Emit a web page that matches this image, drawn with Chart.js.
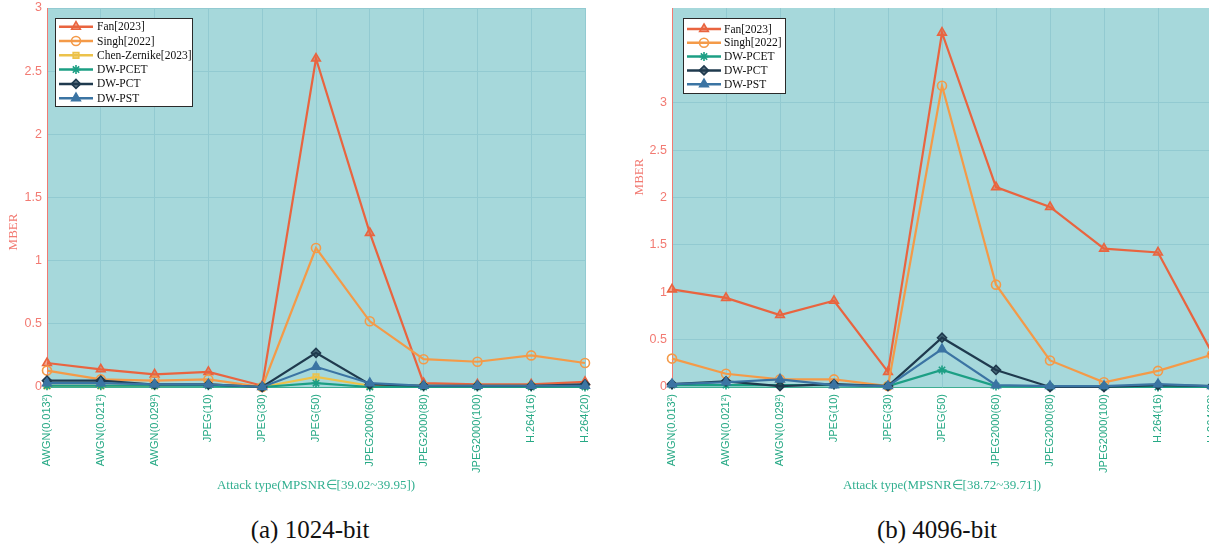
<!DOCTYPE html>
<html>
<head>
<meta charset="utf-8">
<script src="https://cdn.jsdelivr.net/npm/chart.js@4.4.0/dist/chart.umd.min.js"></script>
<style>
  html, body { margin: 0; padding: 0; background: #fff; overflow: hidden; width: 1209px; height: 545px; }
  #wrap { position: relative; width: 1209px; height: 545px; overflow: hidden; }
  #wrap canvas { position: absolute; top: 0; }
  .cap { position: absolute; top: 515px; font-family: "Liberation Serif", "Times New Roman", serif; font-size: 25px;
         color: #111; transform: translateX(-50%); white-space: nowrap; line-height: 30px; }
</style>
</head>
<body>
<div id="wrap">
  <canvas id="c1024" width="600" height="500" style="left:0px"></canvas>
  <canvas id="c4096" width="600" height="500" style="left:625px"></canvas>
  <div class="cap" style="left:310px">(a) 1024-bit</div>
  <div class="cap" style="left:937px">(b) 4096-bit</div>
</div>
<script>
// Attack types on the x axis
const attackTypes = ['AWGN(0.013²)', 'AWGN(0.021²)', 'AWGN(0.029²)', 'JPEG(10)', 'JPEG(30)', 'JPEG(50)',
                     'JPEG2000(60)', 'JPEG2000(80)', 'JPEG2000(100)', 'H.264(16)', 'H.264(20)'];

// MBER, 1024-bit watermark
const fan1024   = [0.19, 0.14, 0.10, 0.12, 0.01, 2.60, 1.22, 0.03, 0.02, 0.02, 0.04];
const singh1024 = [0.13, 0.06, 0.05, 0.06, 0.00, 1.10, 0.52, 0.22, 0.20, 0.25, 0.19];
const chen1024  = [0.01, 0.01, 0.01, 0.02, 0.00, 0.08, 0.01, 0.01, 0.01, 0.01, 0.01];
const pcet1024  = [0.01, 0.01, 0.01, 0.01, 0.00, 0.03, 0.00, 0.00, 0.00, 0.00, 0.00];
const pct1024   = [0.05, 0.05, 0.02, 0.02, 0.00, 0.27, 0.02, 0.01, 0.01, 0.01, 0.02];
const pst1024   = [0.03, 0.03, 0.02, 0.02, 0.00, 0.16, 0.03, 0.01, 0.01, 0.01, 0.01];

// MBER, 4096-bit watermark
const fan4096   = [1.03, 0.94, 0.76, 0.91, 0.16, 3.74, 2.11, 1.90, 1.46, 1.42, 0.36];
const singh4096 = [0.30, 0.14, 0.08, 0.08, 0.01, 3.18, 1.08, 0.28, 0.05, 0.17, 0.34];
const pcet4096  = [0.02, 0.02, 0.02, 0.02, 0.01, 0.18, 0.01, 0.00, 0.00, 0.00, 0.00];
const pct4096   = [0.03, 0.06, 0.01, 0.03, 0.01, 0.52, 0.18, 0.00, 0.00, 0.02, 0.01];
const pst4096   = [0.03, 0.05, 0.08, 0.02, 0.01, 0.40, 0.02, 0.01, 0.01, 0.03, 0.01];

// Y tick values shown on each panel
const yTicks1024 = [0, 0.5, 1, 1.5, 2, 2.5, 3];
const yTicks4096 = [0, 0.5, 1, 1.5, 2, 2.5, 3];

const titles = {
  a: 'Attack type(MPSNR∈[39.02~39.95])',
  b: 'Attack type(MPSNR∈[38.72~39.71])'
};

const PLOT_BG = '#a6d8db';
const GRID = '#92cad1';
const RED_AXIS = '#f27a72';
const GREEN_TXT = '#27a985';

const styles = {
  fan:   { label: 'Fan[2023]',          color: '#e9643f', fill: 'rgba(233,100,63,0.55)', pointStyle: 'triangle', r: 5 },
  singh: { label: 'Singh[2022]',        color: '#f49a48', fill: 'rgba(0,0,0,0)',          pointStyle: 'circle',   r: 4.5 },
  chen:  { label: 'Chen-Zernike[2023]', color: '#ecc24a', fill: 'rgba(236,194,74,0.6)',   pointStyle: 'rect',     r: 4 },
  pcet:  { label: 'DW-PCET',            color: '#1c9f84', fill: '#1c9f84',                pointStyle: 'star',     r: 4.5 },
  pct:   { label: 'DW-PCT',             color: '#1f3a4e', fill: 'rgba(31,58,78,0.7)',     pointStyle: 'rectRot',  r: 4.5 },
  pst:   { label: 'DW-PST',             color: '#3b74a3', fill: '#3b74a3',                pointStyle: 'triangle', r: 5 }
};

function makeDataset(key, data, order) {
  const s = styles[key];
  return {
    label: s.label,
    data: data,
    borderColor: s.color,
    backgroundColor: s.color,
    borderWidth: 2.2,
    pointStyle: s.pointStyle,
    pointRadius: s.r,
    pointBorderWidth: 1.6,
    pointBorderColor: s.color,
    pointBackgroundColor: s.fill,
    tension: 0,
    clip: false,
    order: order
  };
}

// Fills the axes area with the panel colour
const plotBackground = {
  id: 'plotBackground',
  beforeDraw(chart) {
    const a = chart.chartArea;
    const ctx = chart.ctx;
    ctx.save();
    ctx.fillStyle = PLOT_BG;
    ctx.fillRect(a.left, a.top, a.right - a.left, a.bottom - a.top);
    ctx.restore();
  }
};

// Rotated y-axis caption
const yCaption = {
  id: 'yCaption',
  afterDraw(chart, args, opts) {
    const ctx = chart.ctx;
    ctx.save();
    ctx.translate(opts.x, opts.y);
    ctx.rotate(-Math.PI / 2);
    ctx.fillStyle = RED_AXIS;
    ctx.font = '13px "Liberation Serif", "Times New Roman", serif';
    ctx.textAlign = 'center';
    ctx.textBaseline = 'middle';
    ctx.fillText('MBER', 0, 0);
    ctx.restore();
  }
};

// Boxed legend with a line sample and marker for each series
const lineLegend = {
  id: 'lineLegend',
  afterDraw(chart, args, o) {
    const ctx = chart.ctx;
    ctx.save();
    ctx.fillStyle = '#ffffff';
    ctx.fillRect(o.x, o.y, o.w, o.h);
    ctx.strokeStyle = '#2a2a2a';
    ctx.lineWidth = 1;
    ctx.strokeRect(o.x + 0.5, o.y + 0.5, o.w, o.h);
    chart.data.datasets.forEach((ds, i) => {
      const y = o.y + o.first + i * o.gap;
      const x0 = o.x + o.l0, x1 = o.x + o.l1;
      ctx.strokeStyle = ds.borderColor;
      ctx.lineWidth = 2.5;
      ctx.beginPath();
      ctx.moveTo(x0, y);
      ctx.lineTo(x1, y);
      ctx.stroke();
      ctx.fillStyle = ds.pointBackgroundColor;
      ctx.strokeStyle = ds.borderColor;
      ctx.lineWidth = ds.pointBorderWidth;
      Chart.helpers.drawPoint(ctx, {
        pointStyle: ds.pointStyle, radius: ds.pointRadius, rotation: 0, borderWidth: ds.pointBorderWidth
      }, (x0 + x1) / 2, y);
      ctx.fillStyle = '#111';
      ctx.font = '11.5px "Liberation Serif", "Times New Roman", serif';
      ctx.textAlign = 'left';
      ctx.textBaseline = 'middle';
      ctx.fillText(ds.label, o.x + o.tx, y + 0.5);
    });
    ctx.restore();
  }
};

function makeChart(id, datasets, yMax, yTicks, xTitle, rightPad, legendOpts, captionPos) {
  return new Chart(document.getElementById(id), {
    type: 'line',
    data: { labels: attackTypes, datasets: datasets },
    plugins: [plotBackground, yCaption, lineLegend],
    options: {
      responsive: false,
      animation: false,
      devicePixelRatio: 1,
      layout: { padding: { top: 8, left: 0, right: rightPad, bottom: 0 } },
      plugins: {
        legend: { display: false },
        tooltip: { enabled: false },
        lineLegend: legendOpts,
        yCaption: captionPos
      },
      scales: {
        x: {
          offset: false,
          grid: { color: GRID, lineWidth: 1, drawTicks: false },
          border: { color: '#3fae92', width: 1 },
          ticks: {
            autoSkip: false, maxRotation: 90, minRotation: 90, padding: 7,
            color: GREEN_TXT,
            font: { family: "'Liberation Sans', Arial, sans-serif", size: 11 }
          },
          title: {
            display: true, text: xTitle, color: '#33b091',
            font: { family: "'Liberation Serif', 'Times New Roman', serif", size: 13 },
            padding: { top: 0, bottom: 7 }
          },
          afterFit: s => { s.height = 113; s.paddingLeft = 0; s.paddingRight = 0; }
        },
        y: {
          min: 0, max: yMax,
          grid: { color: GRID, lineWidth: 1, drawTicks: false },
          border: { color: RED_AXIS, width: 1 },
          ticks: {
            stepSize: 0.5, padding: 5, color: RED_AXIS,
            font: { family: "'Liberation Sans', Arial, sans-serif", size: 12.5 },
            callback: v => String(v)
          },
          afterBuildTicks: s => { s.ticks = yTicks.map(v => ({ value: v })); },
          afterFit: s => { s.width = 47; s.paddingTop = 0; s.paddingBottom = 0; }
        }
      }
    }
  });
}

makeChart('c1024', [
  makeDataset('fan', fan1024, 6),
  makeDataset('singh', singh1024, 5),
  makeDataset('chen', chen1024, 4),
  makeDataset('pcet', pcet1024, 3),
  makeDataset('pct', pct1024, 2),
  makeDataset('pst', pst1024, 1)
], 3, yTicks1024, titles.a, 15,
  { x: 55, y: 18, w: 137, h: 88, first: 8.7, gap: 14.3, l0: 4, l1: 38, tx: 42 },
  { x: 14, y: 232 });

makeChart('c4096', [
  makeDataset('fan', fan4096, 6),
  makeDataset('singh', singh4096, 5),
  makeDataset('pcet', pcet4096, 3),
  makeDataset('pct', pct4096, 2),
  makeDataset('pst', pst4096, 1)
], 4, yTicks4096, titles.b, 13,
  { x: 58, y: 18, w: 102, h: 75, first: 11, gap: 13.8, l0: 4, l1: 38, tx: 41 },
  { x: 15, y: 177 });
</script>
</body>
</html>
